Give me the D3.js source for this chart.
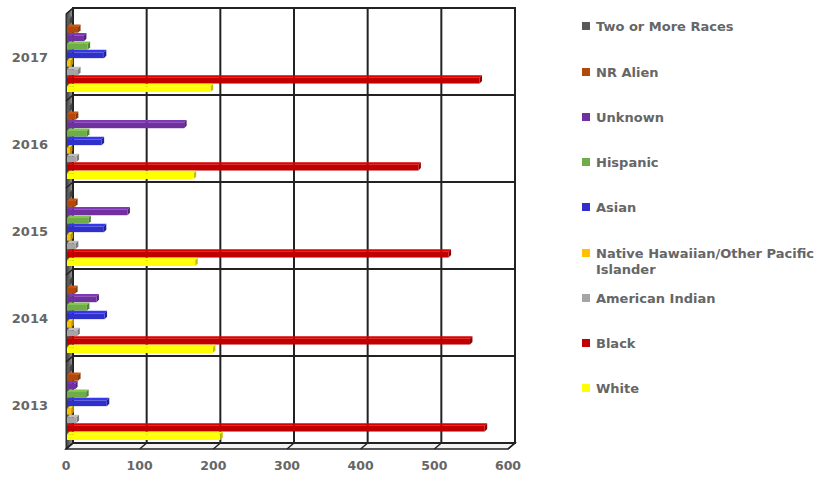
<!DOCTYPE html>
<html><head><meta charset="utf-8">
<script src="https://cdn.jsdelivr.net/npm/d3@7"></script>
<style>body{margin:0;background:#fff}svg{display:block}</style>
</head><body>
<script>
const years = ["2013","2014","2015","2016","2017"];
const seriesNames = ["Two or More Races","NR Alien","Unknown","Hispanic","Asian","Native Hawaiian/Other Pacific Islander","American Indian","Black","White"];
const seriesColors = ["#595959","#b04a0c","#7030a0","#70ad47","#2f2fcc","#ffc000","#a5a5a5","#c00000","#ffff00"];
const twoOrMore      = [4, 4, 4, 4, 4];
const nrAlien        = [15, 11, 11, 12, 15];
const unknown        = [11, 40, 82, 159, 23];
const hispanic       = [26, 27, 29, 27, 28];
const asian          = [54, 51, 50, 47, 50];
const nativeHawaiian = [6, 6, 5, 4, 5];
const americanIndian = [13, 14, 12, 13, 15];
const black          = [567, 547, 518, 477, 560];
const white          = [208, 198, 174, 172, 195];
const xTicks = [0,100,200,300,400,500,600];

const values = [twoOrMore,nrAlien,unknown,hispanic,asian,nativeHawaiian,americanIndian,black,white];

const W=826,H=477;
const svg=d3.select("body").append("svg").attr("width",W).attr("height",H);
const DX=-7, DY=6;
const xb=d3.scaleLinear().domain([0,600]).range([73,515]);
const yb=d3.scaleBand().domain(years.slice().reverse()).range([8,443]);
const ys=d3.scaleBand().domain(seriesNames).range([5,81]).paddingInner(0.02);
const txt="#666666";
const font="'DejaVu Sans', sans-serif";

const defs=svg.append("defs");
const lg=defs.append("linearGradient").attr("id","wall").attr("x1",0).attr("x2",1);
lg.append("stop").attr("offset",0).attr("stop-color","#3a3a3a");
lg.append("stop").attr("offset",1).attr("stop-color","#9a9a9a");

svg.append("polygon").attr("points",[[xb(0),8],[xb(0),443],[xb(0)+DX,443+DY],[xb(0)+DX,8+DY]].join(" "))
  .attr("fill","url(#wall)").attr("stroke","#222").attr("stroke-width",1);
svg.append("polygon").attr("points",[[xb(0),443],[xb(600),443],[xb(600)+DX,443+DY],[xb(0)+DX,443+DY]].join(" "))
  .attr("fill","#f2f2f2").attr("stroke","#222").attr("stroke-width",1.5);
svg.append("rect").attr("x",xb(0)).attr("y",8).attr("width",xb(600)-xb(0)).attr("height",435)
  .attr("fill","#fff").attr("stroke","#222").attr("stroke-width",2);
svg.append("g").selectAll("line").data(xTicks).join("line")
  .attr("x1",d=>xb(d)).attr("x2",d=>xb(d)).attr("y1",8).attr("y2",443)
  .attr("stroke","#222").attr("stroke-width",2);
svg.append("g").selectAll("line").data(xTicks).join("line")
  .attr("x1",d=>xb(d)).attr("x2",d=>xb(d)+DX).attr("y1",443).attr("y2",443+DY)
  .attr("stroke","#222").attr("stroke-width",1.5);
const seps=years.map(y=>yb(y));
svg.append("g").selectAll("line").data(seps).join("line")
  .attr("x1",xb(0)).attr("x2",xb(600)).attr("y1",d=>d).attr("y2",d=>d)
  .attr("stroke","#222").attr("stroke-width",2);
svg.append("g").selectAll("line").data(seps.concat([443])).join("line")
  .attr("x1",xb(0)).attr("x2",xb(0)+DX).attr("y1",d=>d).attr("y2",d=>d+DY)
  .attr("stroke","#222").attr("stroke-width",1.5);

const xbar=d3.scaleLinear().domain([0,600]).range([xb(0)+DX+1,xb(600)+DX+1]);
const d3d=2.5;
const gBars=svg.append("g");
years.forEach((yr,yi)=>{
  const top=yb(yr)+3;
  seriesNames.forEach((s,si)=>{
    const v=values[si][yi];
    const y0=top+ys(s), h=ys.bandwidth();
    const x0=xbar(0), x1=xbar(v);
    const c=d3.color(seriesColors[si]);
    gBars.append("polygon").attr("points",[[x0,y0+d3d],[x1,y0+d3d],[x1+d3d,y0],[x0+d3d,y0]].join(" "))
      .attr("fill",c.brighter(0.4));
    gBars.append("polygon").attr("points",[[x1,y0+d3d],[x1+d3d,y0],[x1+d3d,y0+h-d3d],[x1,y0+h]].join(" "))
      .attr("fill",c.darker(0.8));
    gBars.append("rect").attr("x",x0).attr("y",y0+d3d).attr("width",Math.max(0,x1-x0)).attr("height",h-d3d)
      .attr("fill",c);
  });
});

svg.append("g").selectAll("text").data(years).join("text")
  .attr("x",48).attr("y",d=>yb(d)+DY+yb.bandwidth()/2).attr("dy","0.35em")
  .attr("text-anchor","end").attr("font-family",font).attr("font-weight","bold").attr("font-size",13)
  .attr("fill",txt).text(d=>d);
svg.append("g").selectAll("text").data(xTicks).join("text")
  .attr("x",d=>xb(d)+DX).attr("y",466).attr("dy","0.35em")
  .attr("text-anchor","middle").attr("font-family",font).attr("font-weight","bold").attr("font-size",12.5)
  .attr("fill",txt).text(d=>d);

const legY=[26,72,117,162,207,253,298,343,388];
const leg=svg.append("g");
seriesNames.forEach((s,i)=>{
  leg.append("rect").attr("x",582).attr("y",legY[i]-4).attr("width",8).attr("height",8).attr("fill",seriesColors[i]);
  const t=leg.append("text").attr("x",596).attr("y",legY[i]).attr("dy","0.35em")
    .attr("font-family",font).attr("font-weight","bold").attr("font-size",13).attr("fill",txt);
  if(s.startsWith("Native")){
    t.append("tspan").attr("x",596).text("Native Hawaiian/Other Pacific");
    t.append("tspan").attr("x",596).attr("dy","1.3em").text("Islander");
  } else t.text(s);
});
</script>
</body></html>
